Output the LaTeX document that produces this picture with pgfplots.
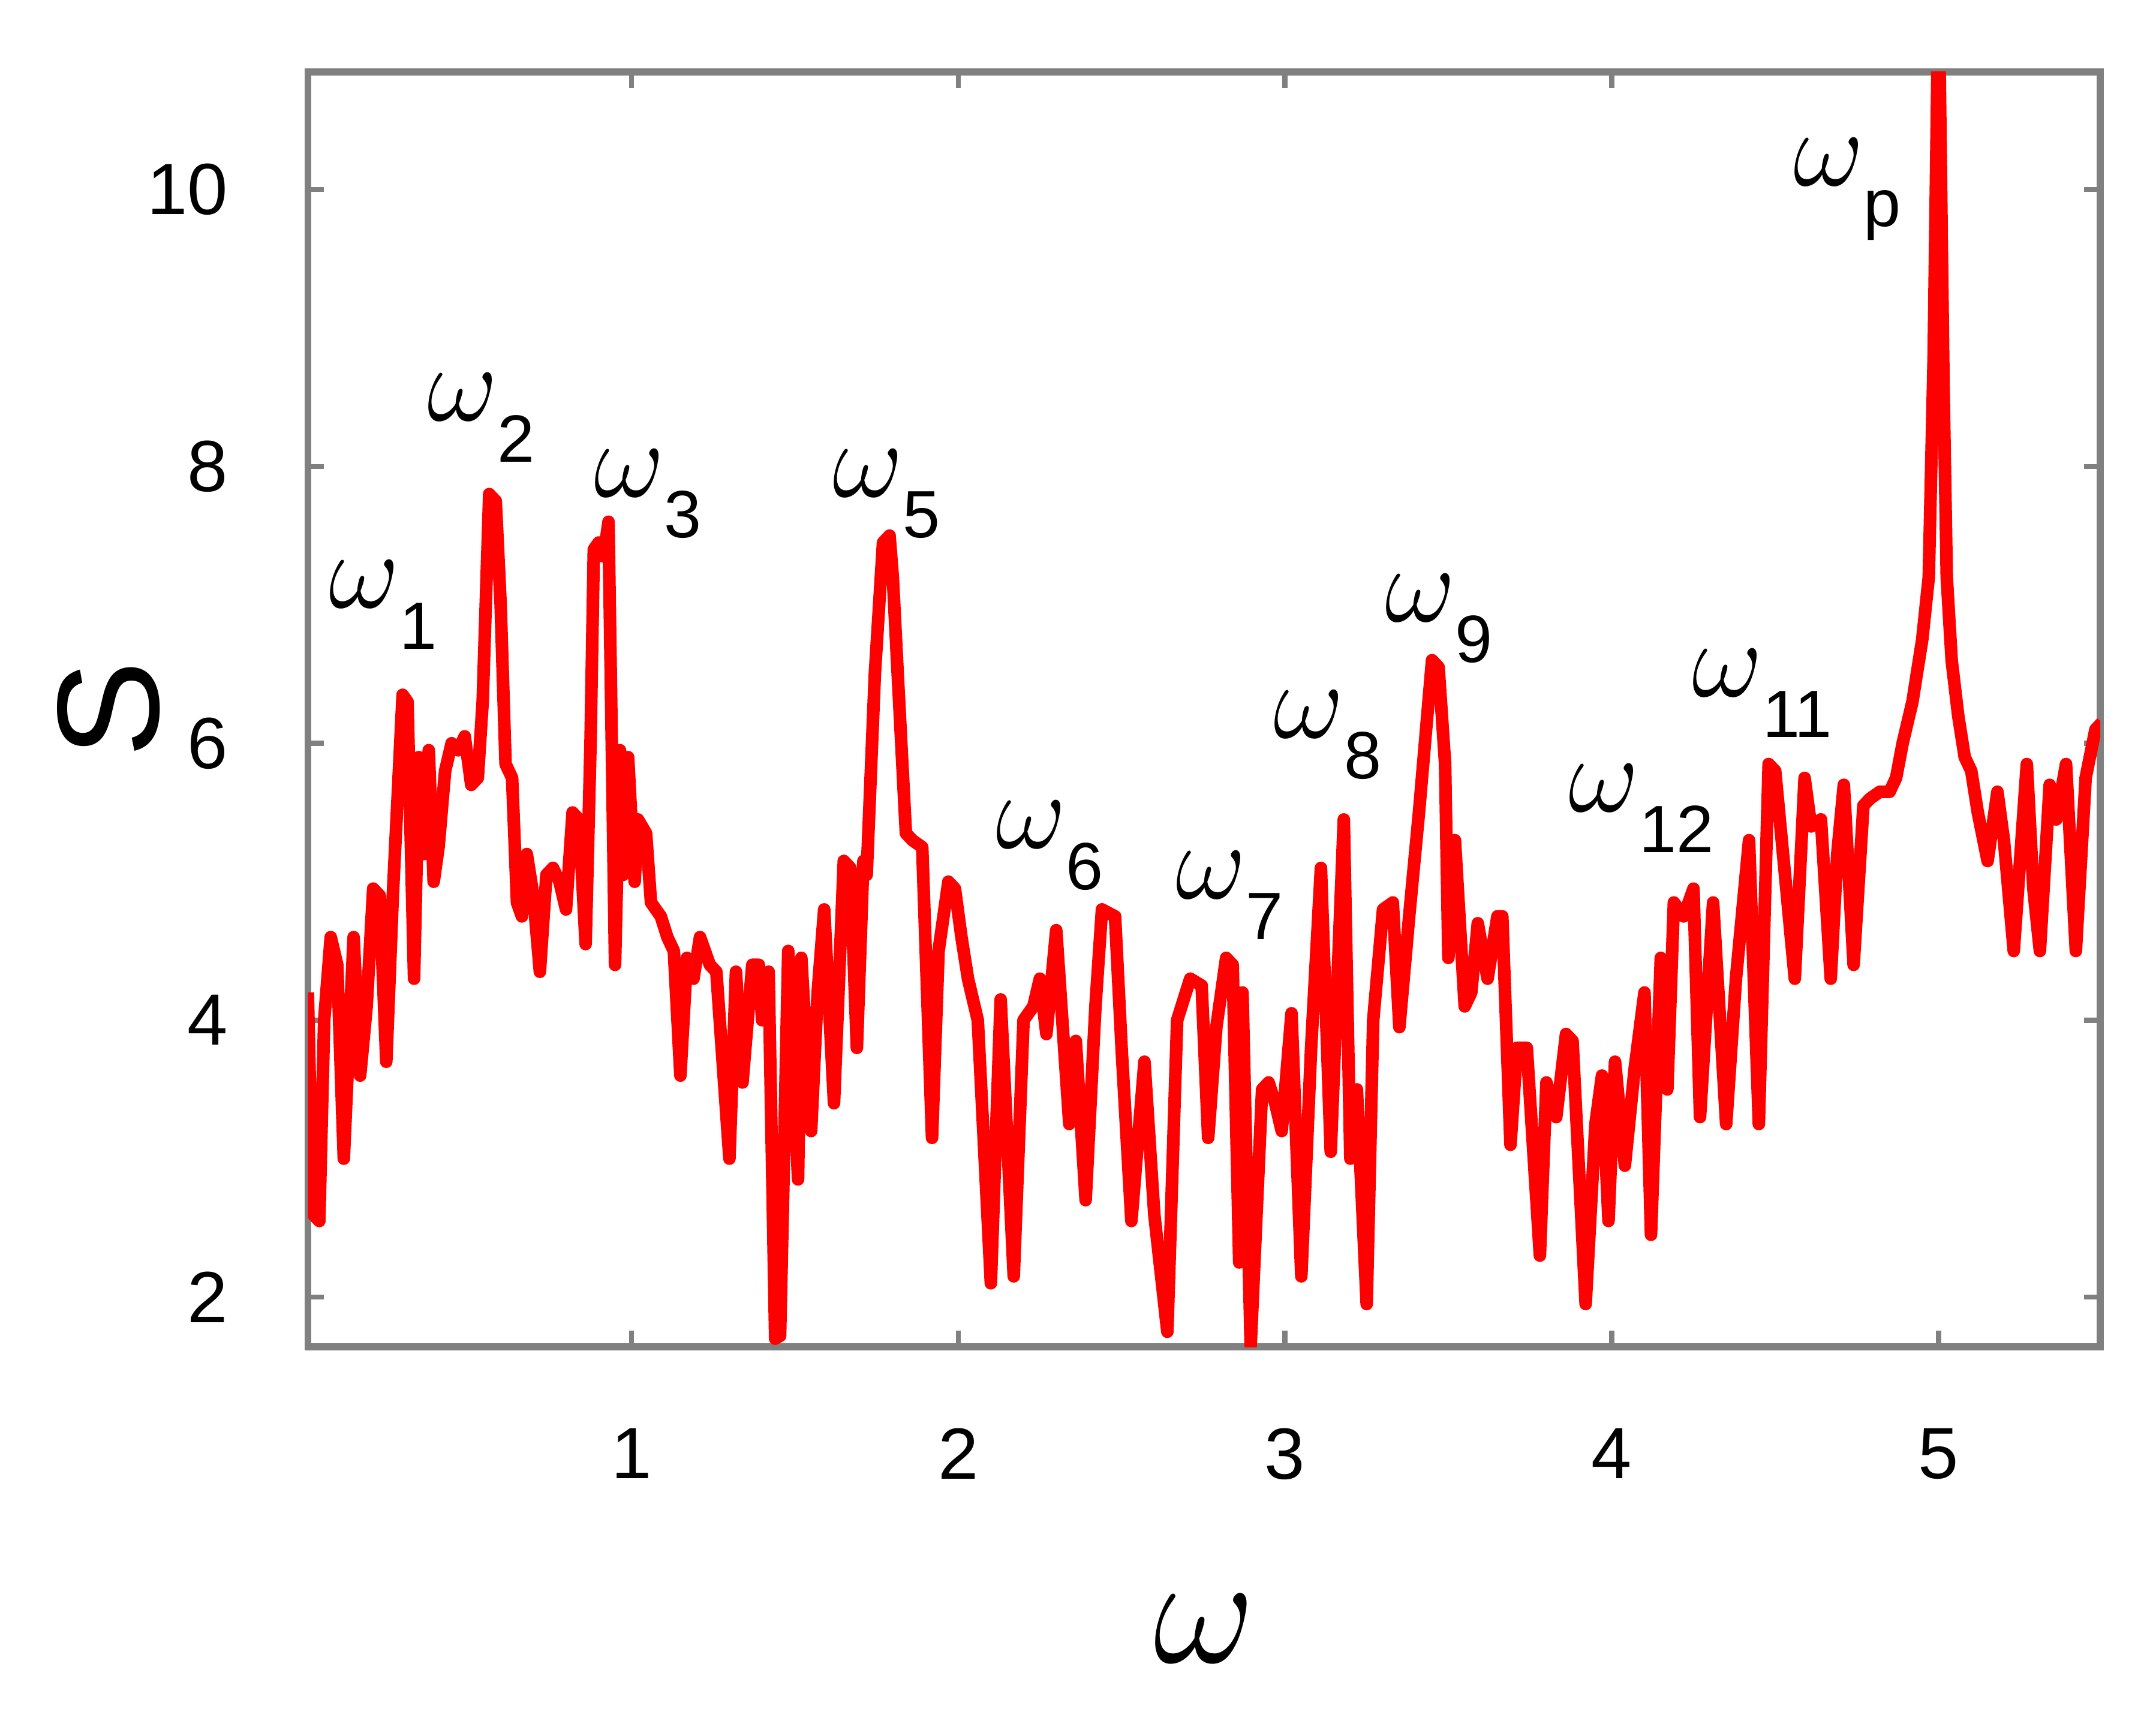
\documentclass[border=0pt]{standalone}
\usepackage{pgfplots}
\pgfplotsset{compat=1.18}
\usepackage{fontspec}
\setmainfont{Liberation Sans}

% peak label: omega with a lowered upright subscript
\newcommand{\wlab}[1]{$\omega$\raisebox{-6.5pt}{\fontsize{10.6}{12}\selectfont #1}}

\begin{document}
\begin{tikzpicture}
\useasboundingbox (-1.714,-2.13) rectangle (10.29,7.50);
\begin{axis}[
  width=9.98cm, height=7.10cm, scale only axis,
  xmin=0.01, xmax=5.495, ymin=1.64, ymax=10.85,
  xtick={1,2,3,4,5}, ytick={2,4,6,8,10},
  tick align=inside, major tick length=0.09cm,
  axis line style={black!50, line width=1.1pt},
  tick style={black!50, line width=0.8pt},
  /pgf/number format/assume math mode=true,
  ticklabel style={font=\fontsize{11.5}{13}\selectfont},
  xticklabel style={yshift=-0.33cm},
  yticklabel style={xshift=-0.32cm},
  xlabel={$\omega$}, ylabel={S},
  xlabel style={at={(axis description cs:0.5,-0.221)}, anchor=center, font=\fontsize{23}{28}\selectfont},
  ylabel style={at={(axis description cs:-0.111,0.5)}, anchor=center, font=\fontsize{23}{28}\selectfont},
]
\addplot[red, line width=2pt, line join=round] coordinates {
(0.01,4.2) (0.025,2.6) (0.045,2.55) (0.06,4.0) (0.08,4.6) (0.10,4.4) (0.12,3.0)
(0.15,4.6) (0.17,3.6) (0.19,4.1) (0.21,4.95) (0.23,4.9) (0.25,3.7) (0.27,4.9)
(0.30,6.35) (0.315,6.3) (0.335,4.3) (0.35,5.9) (0.365,5.2) (0.38,5.95) (0.395,5.0)
(0.41,5.25) (0.43,5.8) (0.45,6.0) (0.47,5.95) (0.49,6.05) (0.51,5.7) (0.53,5.75)
(0.545,6.3) (0.565,7.8) (0.585,7.75) (0.60,7.0) (0.615,5.85) (0.635,5.75) (0.65,4.85)
(0.665,4.75) (0.68,5.2) (0.70,4.9) (0.72,4.35) (0.74,5.05) (0.76,5.1) (0.78,5.0)
(0.80,4.8) (0.82,5.5) (0.84,5.45) (0.86,4.55) (0.875,6.0) (0.885,7.4) (0.90,7.45)
(0.915,7.35) (0.93,7.6) (0.95,4.4) (0.965,5.95) (0.975,5.05) (0.99,5.9) (1.01,5.0)
(1.02,5.45) (1.045,5.35) (1.06,4.85) (1.09,4.75) (1.11,4.6) (1.13,4.5) (1.15,3.6)
(1.17,4.45) (1.19,4.3) (1.21,4.6) (1.24,4.4) (1.26,4.35) (1.30,3.0) (1.32,4.35)
(1.34,3.55) (1.37,4.4) (1.39,4.4) (1.40,4.0) (1.42,4.35) (1.44,1.7) (1.455,1.72)
(1.465,2.8) (1.48,4.5) (1.51,2.85) (1.52,4.45) (1.55,3.2) (1.57,4.2) (1.59,4.8)
(1.62,3.4) (1.65,5.15) (1.67,5.1) (1.69,3.8) (1.71,5.15) (1.72,5.05) (1.745,6.5)
(1.77,7.45) (1.79,7.5) (1.80,7.2) (1.815,6.5) (1.84,5.35) (1.86,5.3) (1.89,5.25)
(1.92,3.15) (1.94,4.5) (1.97,5.0) (1.99,4.95) (2.01,4.6) (2.03,4.3) (2.06,4.0)
(2.10,2.1) (2.13,4.15) (2.17,2.15) (2.20,4.0) (2.23,4.1) (2.25,4.3) (2.27,3.9)
(2.30,4.65) (2.34,3.25) (2.36,3.85) (2.39,2.7) (2.42,4.1) (2.44,4.8) (2.48,4.75)
(2.50,3.8) (2.53,2.55) (2.57,3.7) (2.60,2.6) (2.64,1.75) (2.67,4.0) (2.71,4.3)
(2.745,4.25) (2.765,3.15) (2.79,3.95) (2.82,4.45) (2.84,4.4) (2.86,2.25) (2.87,4.2)
(2.895,1.65) (2.93,3.5) (2.95,3.55) (2.97,3.4) (2.99,3.2) (3.02,4.05) (3.05,2.15)
(3.08,3.8) (3.11,5.1) (3.14,3.05) (3.18,5.45) (3.20,3.0) (3.22,3.5) (3.25,1.95)
(3.27,4.0) (3.30,4.8) (3.33,4.85) (3.35,3.95) (3.38,4.75) (3.41,5.5) (3.45,6.6)
(3.47,6.55) (3.49,5.85) (3.50,4.45) (3.52,5.3) (3.55,4.1) (3.57,4.2) (3.59,4.7)
(3.62,4.3) (3.65,4.75) (3.665,4.75) (3.69,3.1) (3.71,3.8) (3.74,3.8) (3.78,2.3)
(3.80,3.55) (3.83,3.3) (3.86,3.9) (3.88,3.85) (3.92,1.95) (3.95,3.25) (3.97,3.6)
(3.99,2.55) (4.01,3.7) (4.04,2.95) (4.07,3.65) (4.10,4.2) (4.12,2.45) (4.15,4.45)
(4.17,3.5) (4.19,4.85) (4.22,4.75) (4.25,4.95) (4.27,3.3) (4.31,4.85) (4.35,3.25)
(4.38,4.3) (4.42,5.3) (4.45,3.25) (4.48,5.85) (4.50,5.8) (4.52,5.3) (4.56,4.3)
(4.59,5.75) (4.61,5.4) (4.64,5.45) (4.67,4.3) (4.69,5.2) (4.71,5.7) (4.74,4.4)
(4.77,5.55) (4.79,5.6) (4.82,5.65) (4.85,5.65) (4.87,5.75) (4.89,6.0) (4.92,6.3)
(4.95,6.75) (4.97,7.2) (4.985,8.8) (5.0,11.5) (5.015,8.6) (5.025,7.2) (5.04,6.6)
(5.06,6.2) (5.08,5.9) (5.10,5.8) (5.12,5.5) (5.15,5.15) (5.18,5.65) (5.20,5.3)
(5.23,4.5) (5.27,5.85) (5.29,4.95) (5.31,4.5) (5.34,5.7) (5.36,5.45) (5.39,5.85)
(5.42,4.5) (5.45,5.75) (5.48,6.1) (5.5,6.15)
};
\begin{scope}[every node/.style={font=\fontsize{16}{18}\selectfont, inner sep=0pt}]
\node at (axis cs:0.24,7.0) {\wlab{1}};
\node at (axis cs:0.54,8.35) {\wlab{2}};
\node at (axis cs:1.05,7.8) {\wlab{3}};
\node at (axis cs:1.78,7.8) {\wlab{5}};
\node at (axis cs:2.28,5.26) {\wlab{6}};
\node at (axis cs:2.83,4.9) {\wlab{7}};
\node at (axis cs:3.13,6.06) {\wlab{8}};
\node at (axis cs:3.47,6.9) {\wlab{9}};
\node at (axis cs:4.09,5.53) {\wlab{12}};
\node at (axis cs:4.46,6.36) {\wlab{11}};
\node at (axis cs:4.72,10.0) {\wlab{p}};
\end{scope}
\end{axis}
\end{tikzpicture}
\end{document}
